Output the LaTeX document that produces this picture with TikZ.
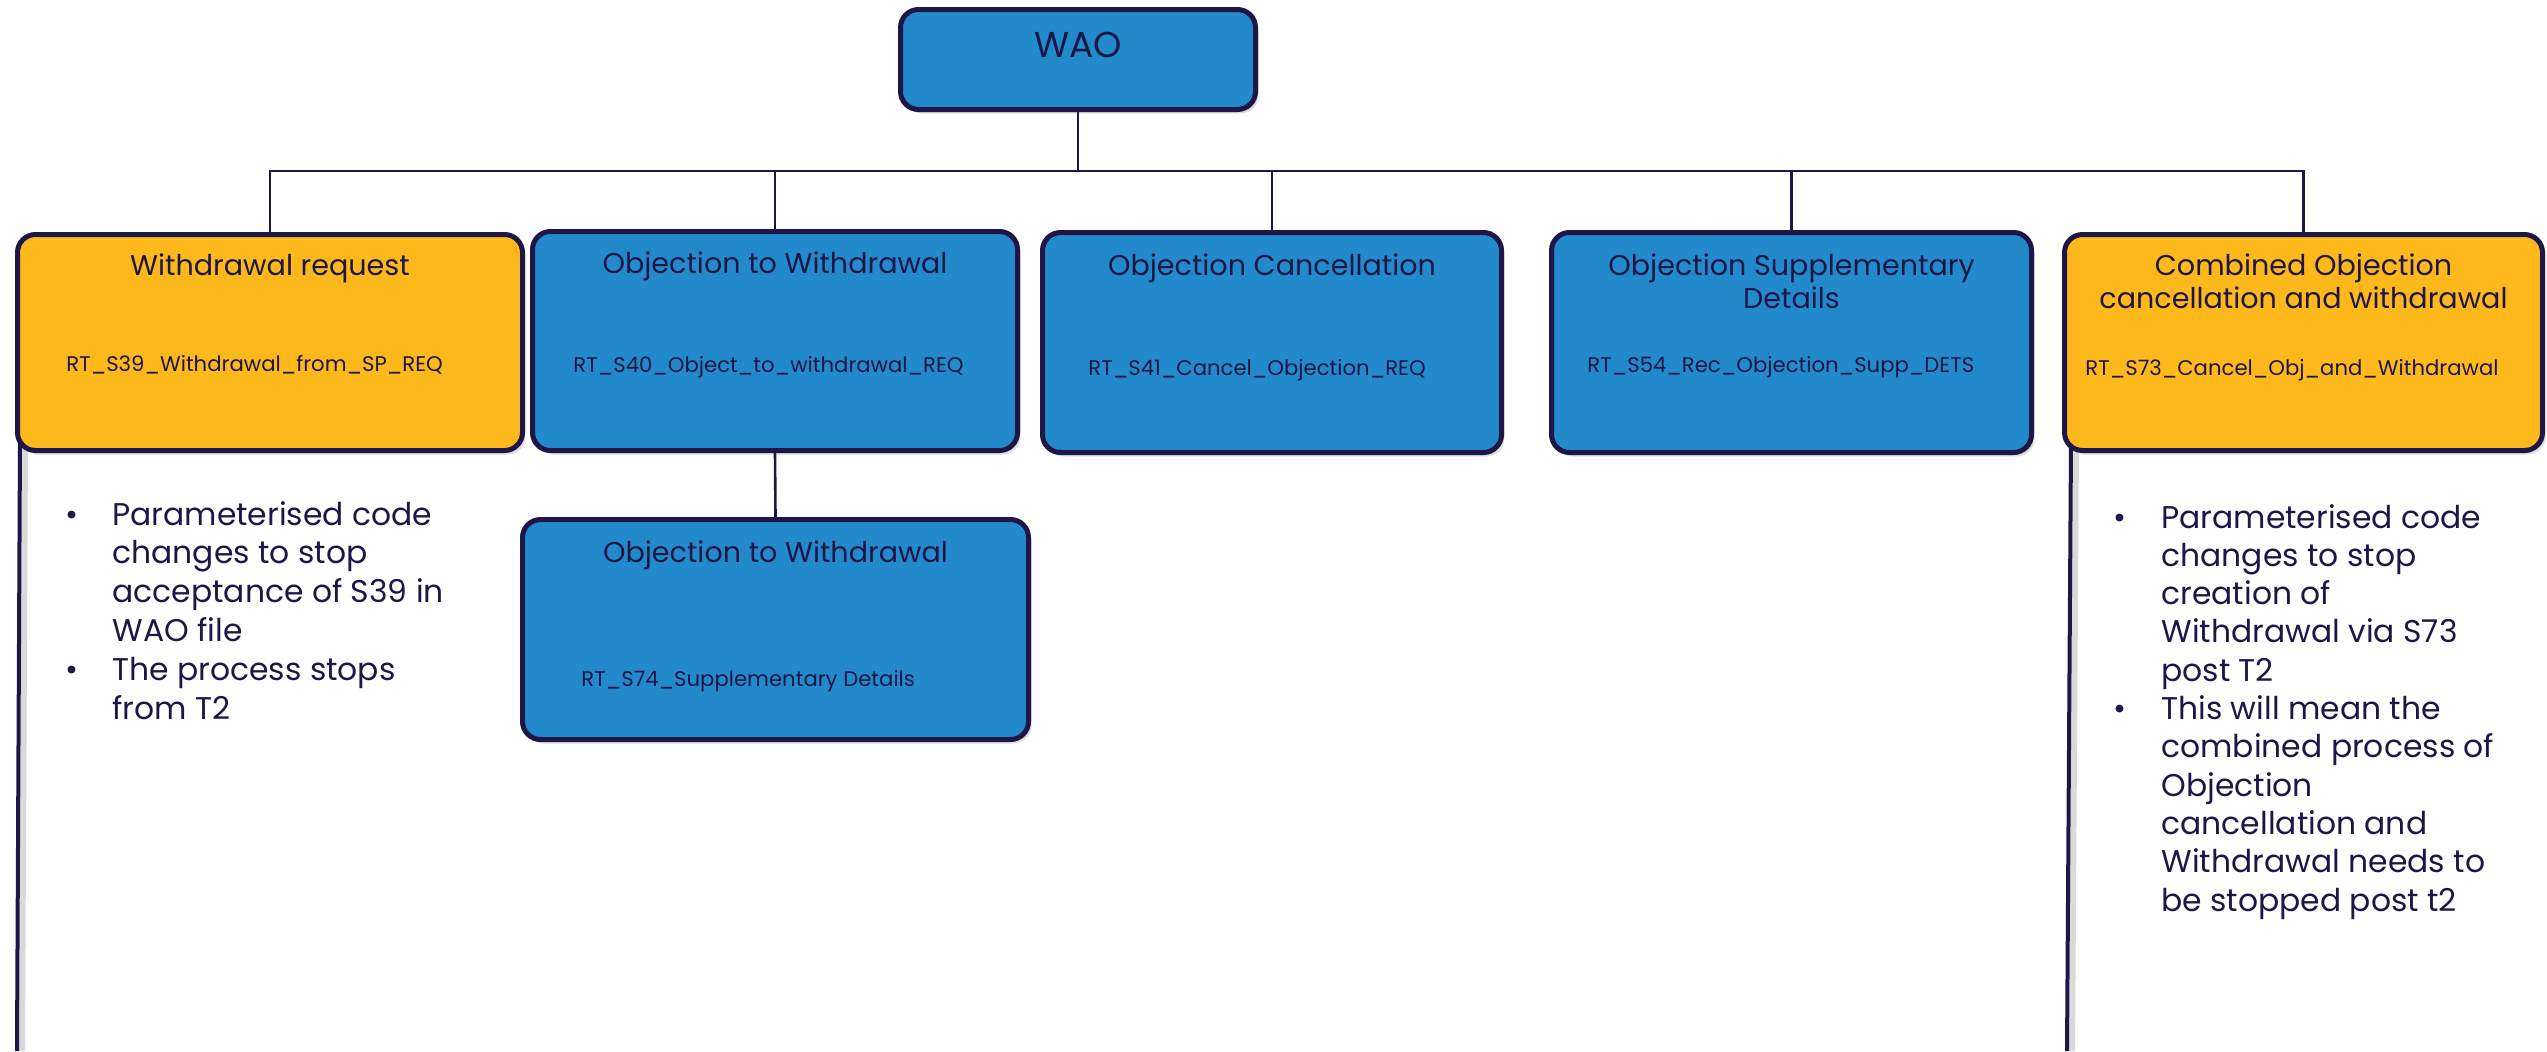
\documentclass[tikz,border=0pt]{standalone}
\usepackage{fontspec}
\setmainfont{Poppins}
\usetikzlibrary{shadows,calc}
\definecolor{navy}{HTML}{1F1648}
\definecolor{boxblue}{HTML}{228ACB}
\definecolor{boxgold}{HTML}{FDB81C}
\tikzset{
  box/.style={draw=navy, line width=2.5pt, rounded corners=9pt, inner sep=0pt,
    drop shadow={shadow xshift=1.5pt, shadow yshift=-2pt, opacity=0.22, fill=black!60}},
  bluebox/.style={box, fill=boxblue},
  goldbox/.style={box, fill=boxgold},
  conn/.style={draw=navy, line width=1.3pt},
  sideline/.style={draw=navy, line width=2pt},
  sideshadow/.style={draw=black!15, line width=3pt},
  title/.style={font=\fontsize{14.3}{16.5}\selectfont, text=navy, align=center, anchor=base, inner sep=0pt},
  code/.style={font=\fontsize{10.6}{12}\selectfont, text=navy, anchor=base west, inner sep=0pt},
  waotext/.style={font=\fontsize{18}{20}\selectfont, text=navy, anchor=base, inner sep=0pt},
  note/.style={anchor=base west, inner sep=0pt, text=navy},
}
\begin{document}
\begin{tikzpicture}[x=0.5pt,y=-0.5pt]
\useasboundingbox (0,0) rectangle (2547,1051);

% side lines
\coordinate (l1a) at (20,440);
\coordinate (l1b) at (17,1051);
\coordinate (l2a) at (2071,440);
\coordinate (l2b) at (2067,1051);
\draw[sideshadow] ([xshift=2.5pt]l1a) -- ([xshift=2.5pt]l1b);
\draw[sideshadow] ([xshift=2.5pt]l2a) -- ([xshift=2.5pt]l2b);
\draw[sideline] (l1a) -- (l1b);
\draw[sideline] (l2a) -- (l2b);

% boxes
\node[bluebox, minimum width=177.5pt, minimum height=50pt] (wao) at (1078,59.5) {};
\node[goldbox, minimum width=252.5pt, minimum height=108pt] (w1) at (270,342.5) {};
\node[bluebox, minimum width=242.5pt, minimum height=109.5pt] (o1) at (775,341) {};
\node[bluebox, minimum width=229.5pt, minimum height=110pt] (c) at (1272,342.5) {};
\node[bluebox, minimum width=240pt, minimum height=110pt] (s) at (1791.5,342.5) {};
\node[goldbox, minimum width=239pt, minimum height=108pt] (co) at (2303.5,342.5) {};
\node[bluebox, minimum width=253pt, minimum height=110pt] (o2) at (775.5,629.5) {};

% connectors
\draw[conn] (wao.south) -- ++(0,59) coordinate (bus);
\foreach \n in {w1,o1,c,s,co} \draw[conn] (bus) -| (\n.north);
\draw[conn] (o1.south) -- (o2.north);

% texts
\node[waotext] (waot) at (1078,57) {WAO};
\node[title] (w1t) at (270,275) {Withdrawal request};
\node[title] (o1t) at (775,273) {Objection to Withdrawal};
\node[title] (ct) at (1272,275) {Objection Cancellation};
\node[title] (st) at (1791.5,308) {Objection Supplementary\\Details};
\node[title] (cot) at (2303.5,308) {Combined Objection\\cancellation and withdrawal};
\node[title] (o2t) at (775.5,562) {Objection to Withdrawal};

\node[code] (w1c) at (66,371) {RT\_S39\_Withdrawal\_from\_SP\_REQ};
\node[code] (o1c) at (573,372) {RT\_S40\_Object\_to\_withdrawal\_REQ};
\node[code] (cc) at (1088,375) {RT\_S41\_Cancel\_Objection\_REQ};
\node[code] (sc) at (1587,372) {RT\_S54\_Rec\_Objection\_Supp\_DETS};
\node[code] (coc) at (2085,375) {RT\_S73\_Cancel\_Obj\_and\_Withdrawal};
\node[code] (o2c) at (581,686) {RT\_S74\_Supplementary Details};

% bullet notes
\node[note] (n1) at (65,525) {\fontsize{15.7}{19.4}\selectfont
\begin{tabular}[t]{@{}p{23.5pt}@{}l@{}}
\textbullet & Parameterised code\\
 & changes to stop\\
 & acceptance of S39 in\\
 & WAO file\\
\textbullet & The process stops\\
 & from T2
\end{tabular}};
\node[note] (n2) at (2113,528) {\fontsize{15.7}{19.15}\selectfont
\begin{tabular}[t]{@{}p{24pt}@{}l@{}}
\textbullet & Parameterised code\\
 & changes to stop\\
 & creation of\\
 & Withdrawal via S73\\
 & post T2\\
\textbullet & This will mean the\\
 & combined process of\\
 & Objection\\
 & cancellation and\\
 & Withdrawal needs to\\
 & be stopped post t2
\end{tabular}};
\end{tikzpicture}
\end{document}
